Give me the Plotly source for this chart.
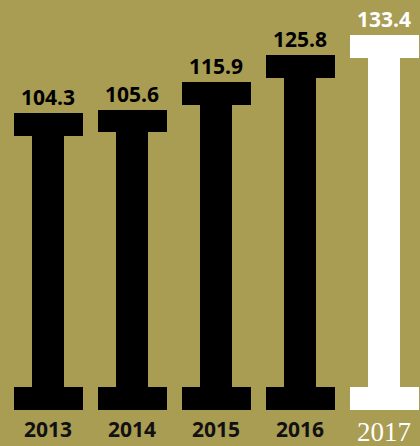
import plotly.graph_objects as go

# Annual totals, 2013-2017
years = ["2013", "2014", "2015", "2016", "2017"]
values = [104.3, 105.6, 115.9, 125.8, 133.4]
label_text = ["104.3", "105.6", "115.9", "125.8", "133.4"]

BG = "#a99c53"
colors = ["#000000"] * 4 + ["#ffffff"]

x = list(range(len(years)))

CAP_H = 8.5          # thickness of top/bottom flanges, in value units
BASE_LO = -6.5       # bottom edge of the foot flange
BASE_HI = BASE_LO + CAP_H
CAP_W = 0.82
STEM_W = 0.38

fig = go.Figure()

# Stem (web) of each column, from the foot up to the value
fig.add_trace(go.Bar(
    x=x, y=[v - BASE_HI for v in values], base=[BASE_HI] * len(values),
    width=STEM_W, marker=dict(color=colors, line=dict(width=0)),
    hoverinfo="skip", showlegend=False,
))
# Top flange, ending exactly at the value
fig.add_trace(go.Bar(
    x=x, y=[CAP_H] * len(values), base=[v - CAP_H for v in values],
    width=CAP_W, marker=dict(color=colors, line=dict(width=0)),
    hoverinfo="skip", showlegend=False,
))
# Bottom flange
fig.add_trace(go.Bar(
    x=x, y=[CAP_H] * len(values), base=[BASE_LO] * len(values),
    width=CAP_W, marker=dict(color=colors, line=dict(width=0)),
    hoverinfo="skip", showlegend=False,
))

annotations = []
for xi, v, t, c in zip(x, values, label_text, colors):
    annotations.append(dict(
        x=xi, y=v, xref="x", yref="y", text=t, showarrow=False,
        yanchor="middle", yshift=16,
        font=dict(family="Open Sans", size=21, color=c, weight="bold"),
    ))

for xi, yr in zip(x, years):
    if yr == "2017":
        font = dict(family="Liberation Serif", size=27, color="#ffffff")
        ys = -14.6
    else:
        font = dict(family="Open Sans", size=21, color="#111111", weight="bold")
        ys = -13.6
    annotations.append(dict(
        x=xi, y=ys, xref="x", yref="y", text=yr, showarrow=False,
        yanchor="middle", font=font,
    ))

fig.update_layout(
    width=420, height=446,
    margin=dict(l=0, r=0, t=0, b=0),
    paper_bgcolor=BG, plot_bgcolor=BG,
    barmode="overlay", bargap=0,
    xaxis=dict(range=[-0.576, 4.424], visible=False, fixedrange=True),
    yaxis=dict(range=[-19.95, 146.46], visible=False, fixedrange=True),
    annotations=annotations,
)

fig.write_html("out.html")
